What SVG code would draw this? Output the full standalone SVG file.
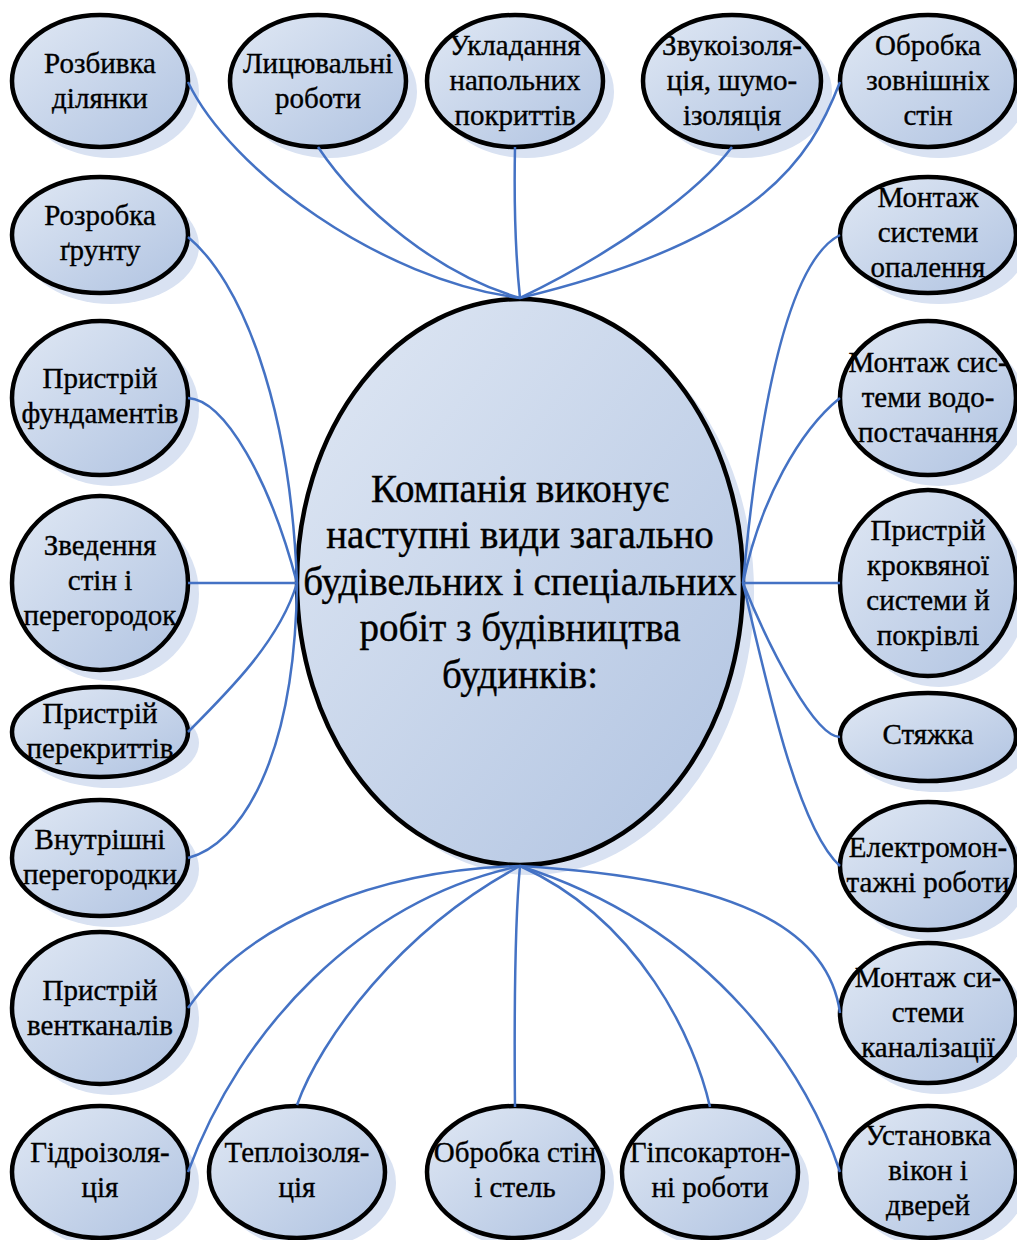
<svg xmlns="http://www.w3.org/2000/svg" width="1017" height="1240" viewBox="0 0 1017 1240" font-family="Liberation Serif, Times New Roman, serif">
<defs>
<linearGradient id="g" x1="0" y1="0" x2="1" y2="1">
<stop offset="0" stop-color="#e0e8f4"/>
<stop offset="1" stop-color="#b0c3e1"/>
</linearGradient>
</defs>
<style>
.sh{fill:#d9e2f2;stroke:none}
.el{fill:url(#g);stroke:#000;stroke-width:4.5}
.t{font-size:29px;fill:#000;stroke:#000;stroke-width:0.35;text-anchor:middle}
.tc{font-size:39px;fill:#000;stroke:#000;stroke-width:0.4;text-anchor:middle}
.c{fill:none;stroke:#4472c4;stroke-width:2.5}
</style>
<rect width="1017" height="1240" fill="#fff"/>

<g id="center">
<ellipse class="sh" cx="531" cy="592" rx="223" ry="283"/>
<ellipse class="el" cx="520" cy="582" rx="223" ry="283"/>
<text class="tc" x="520" y="502">Компанія виконує</text>
<text class="tc" x="520" y="548">наступні види загально</text>
<text class="tc" x="520" y="595">будівельних і спеціальних</text>
<text class="tc" x="520" y="641">робіт з будівництва</text>
<text class="tc" x="520" y="688">будинків:</text>
</g>

<g id="n1"><ellipse class="sh" cx="111" cy="92" rx="88" ry="66"/><ellipse class="el" cx="100" cy="81" rx="88" ry="66"/>
<text class="t" x="100" y="73">Розбивка</text><text class="t" x="100" y="108">ділянки</text></g>
<g id="n2"><ellipse class="sh" cx="329" cy="92" rx="88" ry="66"/><ellipse class="el" cx="318" cy="81" rx="88" ry="66"/>
<text class="t" x="318" y="73">Лицювальні</text><text class="t" x="318" y="108">роботи</text></g>
<g id="n3"><ellipse class="sh" cx="526" cy="92" rx="88" ry="66"/><ellipse class="el" cx="515" cy="81" rx="88" ry="66"/>
<text class="t" x="515" y="55">Укладання</text><text class="t" x="515" y="90">напольних</text><text class="t" x="515" y="125">покриттів</text></g>
<g id="n4"><ellipse class="sh" cx="743" cy="92" rx="89" ry="66"/><ellipse class="el" cx="732" cy="81" rx="89" ry="66"/>
<text class="t" x="732" y="55">Звукоізоля-</text><text class="t" x="732" y="90">ція, шумо-</text><text class="t" x="732" y="125">ізоляція</text></g>
<g id="n5"><ellipse class="sh" cx="939" cy="92" rx="88" ry="66"/><ellipse class="el" cx="928" cy="81" rx="88" ry="66"/>
<text class="t" x="928" y="55">Обробка</text><text class="t" x="928" y="90">зовнішніх</text><text class="t" x="928" y="125">стін</text></g>

<g id="n6"><ellipse class="sh" cx="111" cy="246" rx="88" ry="58"/><ellipse class="el" cx="100" cy="235" rx="88" ry="58"/>
<text class="t" x="100" y="225">Розробка</text><text class="t" x="100" y="260">ґрунту</text></g>
<g id="n7"><ellipse class="sh" cx="939" cy="246" rx="88" ry="58"/><ellipse class="el" cx="928" cy="235" rx="88" ry="58"/>
<text class="t" x="928" y="207">Монтаж</text><text class="t" x="928" y="242">системи</text><text class="t" x="928" y="277">опалення</text></g>

<g id="n8"><ellipse class="sh" cx="111" cy="409" rx="88" ry="77"/><ellipse class="el" cx="100" cy="398" rx="88" ry="77"/>
<text class="t" x="100" y="388">Пристрій</text><text class="t" x="100" y="423">фундаментів</text></g>
<g id="n9"><ellipse class="sh" cx="939" cy="409" rx="88" ry="77"/><ellipse class="el" cx="928" cy="398" rx="88" ry="77"/>
<text class="t" x="928" y="372">Монтаж сис-</text><text class="t" x="928" y="407">теми водо-</text><text class="t" x="928" y="442">постачання</text></g>

<g id="n10"><ellipse class="sh" cx="111" cy="594" rx="88" ry="87"/><ellipse class="el" cx="100" cy="583" rx="88" ry="87"/>
<text class="t" x="100" y="555">Зведення</text><text class="t" x="100" y="590">стін і</text><text class="t" x="100" y="625">перегородок</text></g>
<g id="n11"><ellipse class="sh" cx="939" cy="594" rx="88" ry="93"/><ellipse class="el" cx="928" cy="583" rx="88" ry="93"/>
<text class="t" x="928" y="540">Пристрій</text><text class="t" x="928" y="575">кроквяної</text><text class="t" x="928" y="610">системи й</text><text class="t" x="928" y="645">покрівлі</text></g>

<g id="n12"><ellipse class="sh" cx="111" cy="743" rx="88" ry="45"/><ellipse class="el" cx="100" cy="732" rx="88" ry="45"/>
<text class="t" x="100" y="723">Пристрій</text><text class="t" x="100" y="758">перекриттів</text></g>
<g id="n13"><ellipse class="sh" cx="939" cy="748" rx="88" ry="44"/><ellipse class="el" cx="928" cy="737" rx="88" ry="44"/>
<text class="t" x="928" y="744">Стяжка</text></g>

<g id="n14"><ellipse class="sh" cx="111" cy="869" rx="88" ry="58"/><ellipse class="el" cx="100" cy="858" rx="88" ry="58"/>
<text class="t" x="100" y="849">Внутрішні</text><text class="t" x="100" y="884">перегородки</text></g>
<g id="n15"><ellipse class="sh" cx="939" cy="877" rx="88" ry="64"/><ellipse class="el" cx="928" cy="866" rx="88" ry="64"/>
<text class="t" x="928" y="857">Електромон-</text><text class="t" x="928" y="892">тажні роботи</text></g>

<g id="n16"><ellipse class="sh" cx="111" cy="1019" rx="88" ry="76"/><ellipse class="el" cx="100" cy="1008" rx="88" ry="76"/>
<text class="t" x="100" y="1000">Пристрій</text><text class="t" x="100" y="1035">вентканалів</text></g>
<g id="n17"><ellipse class="sh" cx="939" cy="1024" rx="88" ry="70"/><ellipse class="el" cx="928" cy="1013" rx="88" ry="70"/>
<text class="t" x="928" y="987">Монтаж си-</text><text class="t" x="928" y="1022">стеми</text><text class="t" x="928" y="1057">каналізації</text></g>

<g id="n18"><ellipse class="sh" cx="111" cy="1183" rx="88" ry="66"/><ellipse class="el" cx="100" cy="1172" rx="88" ry="66"/>
<text class="t" x="100" y="1162">Гідроізоля-</text><text class="t" x="100" y="1197">ція</text></g>
<g id="n19"><ellipse class="sh" cx="308" cy="1183" rx="88" ry="66"/><ellipse class="el" cx="297" cy="1172" rx="88" ry="66"/>
<text class="t" x="297" y="1162">Теплоізоля-</text><text class="t" x="297" y="1197">ція</text></g>
<g id="n20"><ellipse class="sh" cx="526" cy="1183" rx="88" ry="66"/><ellipse class="el" cx="515" cy="1172" rx="88" ry="66"/>
<text class="t" x="515" y="1162">Обробка стін</text><text class="t" x="515" y="1197">і стель</text></g>
<g id="n21"><ellipse class="sh" cx="721" cy="1183" rx="88" ry="66"/><ellipse class="el" cx="710" cy="1172" rx="88" ry="66"/>
<text class="t" x="710" y="1162">Гіпсокартон-</text><text class="t" x="710" y="1197">ні роботи</text></g>
<g id="n22"><ellipse class="sh" cx="939" cy="1183" rx="88" ry="66"/><ellipse class="el" cx="928" cy="1172" rx="88" ry="66"/>
<text class="t" x="928" y="1145">Установка</text><text class="t" x="928" y="1180">вікон і</text><text class="t" x="928" y="1215">дверей</text></g>

<g id="connectors">
<path class="c" d="M188,82 C230,170 380,280 520,298"/>
<path class="c" d="M318,147 C360,210 440,275 520,298"/>
<path class="c" d="M515,147 C514,200 516,260 520,298"/>
<path class="c" d="M732,147 C700,190 620,250 520,298"/>
<path class="c" d="M840,82 C810,160 760,240 520,298"/>
<path class="c" d="M188,237 C240,280 290,400 297,583"/>
<path class="c" d="M188,398 C225,400 270,480 297,583"/>
<path class="c" d="M188,583 L297,583"/>
<path class="c" d="M188,732 C230,690 280,640 297,583"/>
<path class="c" d="M188,858 C240,845 295,760 297,583"/>
<path class="c" d="M840,235 C790,260 760,400 743,583"/>
<path class="c" d="M840,398 C800,430 760,500 743,583"/>
<path class="c" d="M840,583 L743,583"/>
<path class="c" d="M840,737 C815,737 770,650 743,583"/>
<path class="c" d="M840,866 C800,830 770,700 743,583"/>
<path class="c" d="M188,1008 C250,920 380,870 520,866"/>
<path class="c" d="M188,1172 C240,1030 360,900 520,866"/>
<path class="c" d="M297,1105 C320,1040 400,930 520,866"/>
<path class="c" d="M515,1107 C514,1000 515,920 520,866"/>
<path class="c" d="M710,1107 C695,1040 640,920 520,866"/>
<path class="c" d="M840,1013 C830,940 760,880 520,866"/>
<path class="c" d="M840,1172 C810,1080 720,930 520,866"/>
</g>
</svg>
